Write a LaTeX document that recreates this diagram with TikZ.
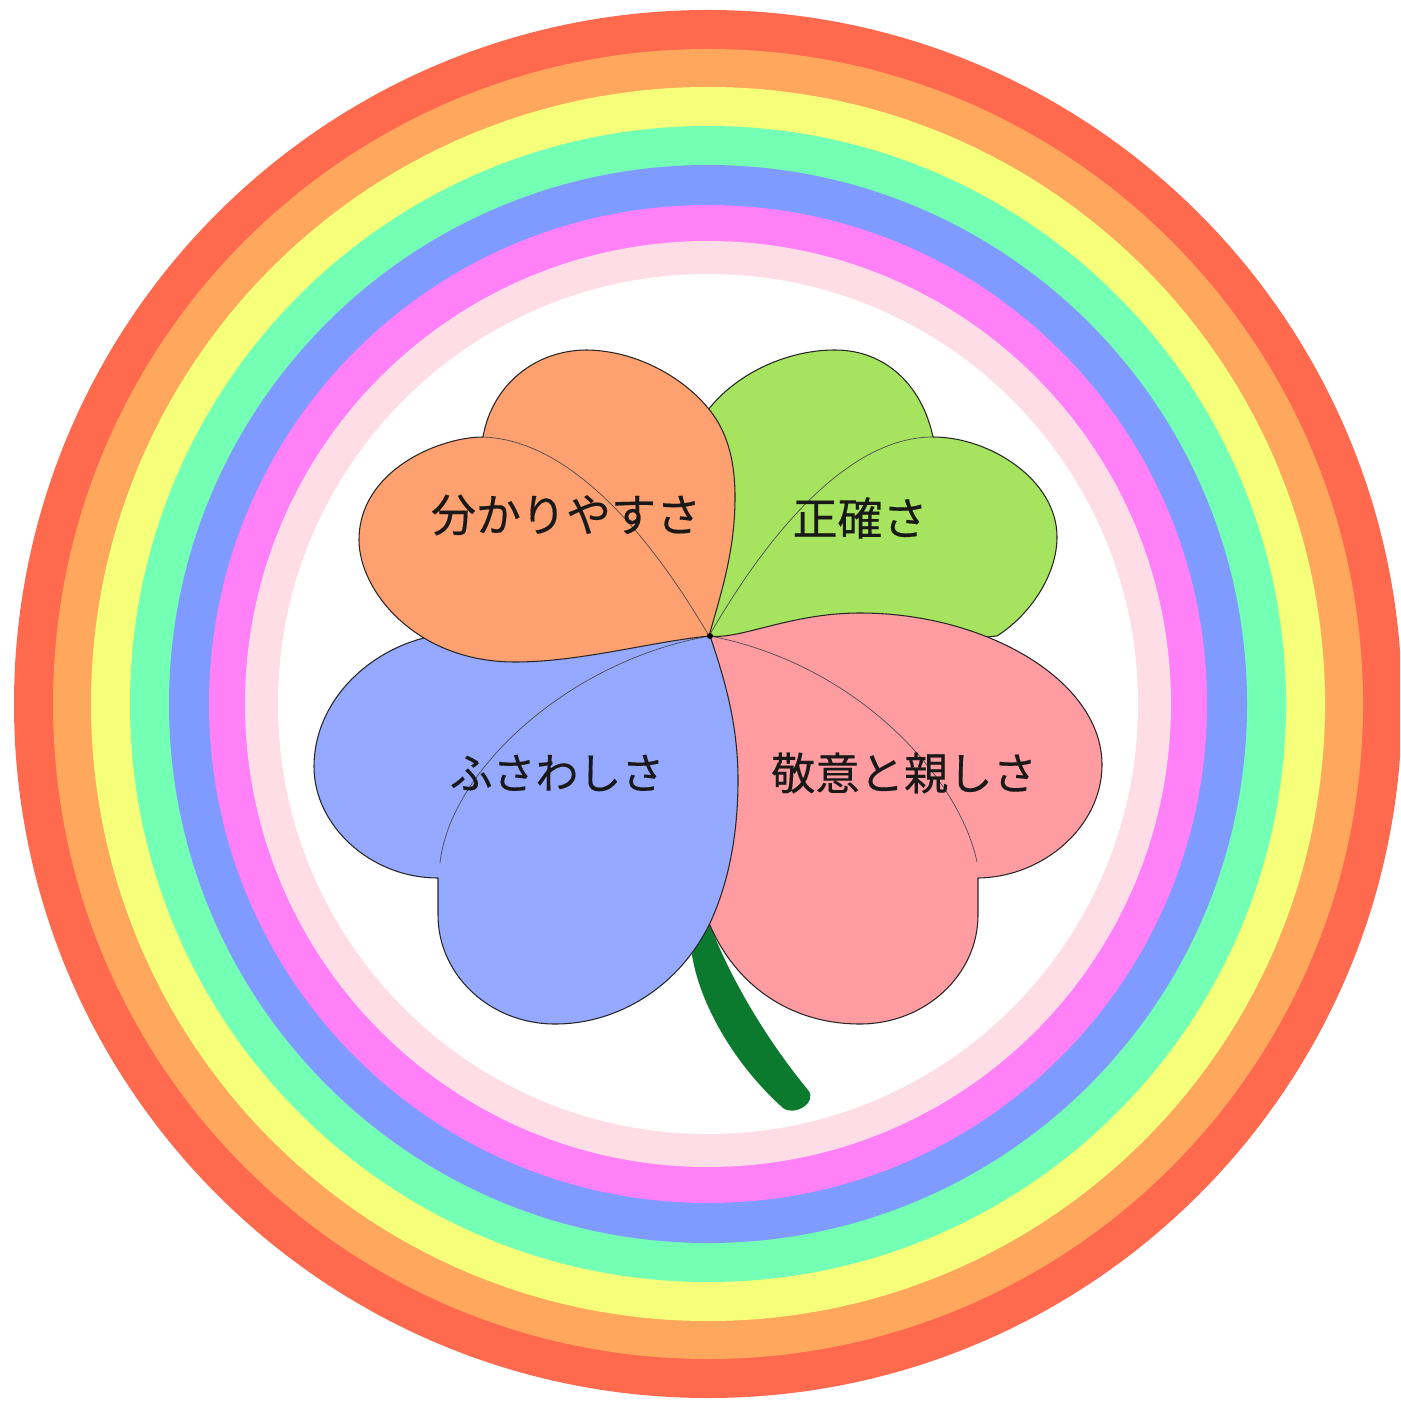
\documentclass[tikz,border=0pt]{standalone}
\usepackage{fontspec}
\newfontfamily\jpfont[FakeBold=0.35]{Noto Sans CJK JP}
\definecolor{ringA}{HTML}{FF6A4F}
\definecolor{ringB}{HTML}{FFA75C}
\definecolor{ringC}{HTML}{F6FF7A}
\definecolor{ringD}{HTML}{73FFB4}
\definecolor{ringE}{HTML}{7F9BFF}
\definecolor{ringF}{HTML}{FF80F7}
\definecolor{ringG}{HTML}{FFDDE6}
\definecolor{petalO}{HTML}{FFA070}
\definecolor{petalG}{HTML}{A6E35F}
\definecolor{petalB}{HTML}{94A9FF}
\definecolor{petalP}{HTML}{FF9CA2}
\definecolor{stemG}{HTML}{0B7A2E}
\tikzset{
  petal/.style={draw=black!85,line width=0.3pt,line join=round},
  vein/.style={draw=black!70,line width=0.2pt},
  lbl/.style={font=\jpfont\fontsize{12.8pt}{14pt}\selectfont,text=black!90,inner sep=0pt}
}
\begin{document}
\begin{tikzpicture}[x=0.01cm,y=-0.01cm]
\useasboundingbox (0,0) rectangle (1400,1401);
\fill[white] (0,0) rectangle (1400,1401);
\coordinate (ctr) at (708,704);
\begin{scope}
\clip (0,0) rectangle (1400,1401);
\fill[ringA] (ctr) circle[radius=694];
\fill[ringB] (ctr) circle[radius=655];
\fill[ringC] (ctr) circle[radius=617];
\fill[ringD] (ctr) circle[radius=578];
\fill[ringE] (ctr) circle[radius=539];
\fill[ringF] (ctr) circle[radius=499];
\fill[ringG] (ctr) circle[radius=463];
\fill[white] (ctr) circle[radius=430];
\end{scope}
% stem
\fill[stemG] (700,920) -- (692,955) .. controls (700,1005) and (735,1065) .. (783,1108)
  .. controls (795,1117) and (818,1102) .. (808,1090)
  .. controls (775,1050) and (735,990) .. (710,925) -- cycle;
% green
\path[petal,fill=petalG] (709,636) -- (725,500) -- (708,410)
  .. controls (735,375) and (785,350) .. (835,350)
  .. controls (885,350) and (922,385) .. (933,437)
  .. controls (990,437) and (1057,480) .. (1057,537)
  .. controls (1057,575) and (1030,615) .. (997,636)
  -- (850,650) -- cycle;
\path[vein] (933,437) .. controls (850,437) and (770,530) .. (709,636);
% pink
\path[petal,fill=petalP] (710,636) .. controls (740,640) and (790,613) .. (860,613)
  .. controls (985,613) and (1102,680) .. (1102,765)
  .. controls (1102,825) and (1045,877) .. (978,878)
  -- (978,915) .. controls (978,975) and (925,1024) .. (860,1024)
  .. controls (790,1024) and (735,985) .. (709,923)
  -- (720,800) -- cycle;
\path[vein] (977,862) .. controls (960,780) and (860,665) .. (710,636);
% blue
\path[petal,fill=petalB] (710,636) -- (600,640) -- (500,640) -- (428,637)
  .. controls (370,650) and (314,700) .. (314,767)
  .. controls (314,825) and (370,878) .. (438,878)
  -- (438,915) .. controls (438,975) and (490,1024) .. (555,1024)
  .. controls (620,1024) and (680,985) .. (710,923)
  .. controls (730,880) and (738,830) .. (738,780)
  .. controls (738,725) and (725,680) .. (710,636) -- cycle;
\path[vein] (440,863) .. controls (450,770) and (570,660) .. (710,636);
% orange
\path[petal,fill=petalO] (709,636) .. controls (722,590) and (735,550) .. (735,497)
  .. controls (735,450) and (722,425) .. (708,408)
  .. controls (685,380) and (640,351) .. (587,350)
  .. controls (535,350) and (492,385) .. (483,437)
  .. controls (440,437) and (359,470) .. (359,540)
  .. controls (359,590) and (415,662) .. (515,662)
  .. controls (580,662) and (650,642) .. (709,636) -- cycle;
\path[vein] (483,437) .. controls (570,440) and (650,535) .. (709,636);
\fill[black] (710,636) circle[radius=3];
% labels
\node[lbl] (clear) at (566,515) {分かりやすさ};
\node[lbl] (exact) at (860,518) {正確さ};
\node[lbl,font=\jpfont\fontsize{12.2pt}{14pt}\selectfont] (fit) at (557,773) {ふさわしさ};
\node[lbl,font=\jpfont\fontsize{12.6pt}{14pt}\selectfont] (respect) at (904,773) {敬意と親しさ};
\end{tikzpicture}
\end{document}
